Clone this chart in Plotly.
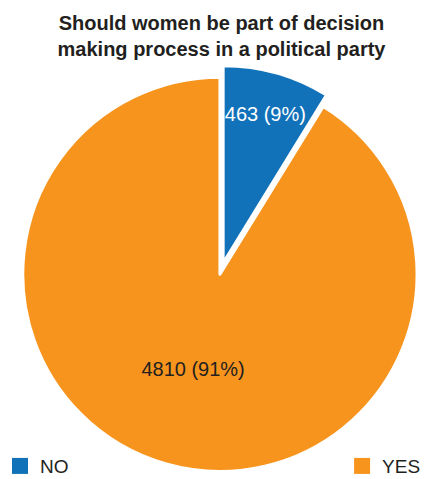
import plotly.graph_objects as go

# Survey answers
answers = ["NO", "YES"]
counts = [463, 4810]
slice_colors = ["#1172b9", "#f7941e"]
label_colors = ["#ffffff", "#231f20"]
title_lines = ["Should women be part of decision", "making process in a political party"]

FONT = "Liberation Sans, Arial, Helvetica, sans-serif"
INK = "#231f20"

fig = go.Figure()

fig.add_trace(
    go.Pie(
        labels=answers,
        values=counts,
        sort=False,
        direction="clockwise",
        rotation=0,
        pull=[0.04, 0.02],
        marker=dict(colors=slice_colors, line=dict(color="#ffffff", width=3)),
        texttemplate="%{value} (%{percent:.0%})",
        textposition="inside",
        insidetextorientation="horizontal",
        textfont=dict(family=FONT, size=20, color=label_colors),
        hoverinfo="label+value+percent",
        showlegend=False,
        domain=dict(x=[16 / 426, 1], y=[0, 1]),
    )
)

# One legend per answer, so the two keys can sit at opposite corners
legend_names = ["legend", "legend2"]
for name, answer, color in zip(legend_names, answers, slice_colors):
    fig.add_trace(
        go.Scatter(
            x=[None],
            y=[None],
            mode="markers",
            name=answer,
            marker=dict(symbol="square", size=16, color=color),
            legend=name,
            showlegend=True,
            hoverinfo="skip",
        )
    )

legend_style = dict(
    orientation="h",
    y=0.031,
    yanchor="middle",
    font=dict(family=FONT, size=19, color=INK),
    bgcolor="rgba(0,0,0,0)",
)

fig.update_layout(
    width=426,
    height=479,
    margin=dict(l=0, r=0, t=62, b=0, autoexpand=False),
    paper_bgcolor="#ffffff",
    plot_bgcolor="#ffffff",
    font=dict(family=FONT, color=INK),
    xaxis=dict(visible=False),
    yaxis=dict(visible=False),
    title=dict(
        text="<b>" + "<br>".join(title_lines) + "</b>",
        x=0.52,
        xanchor="center",
        y=0.937,
        yanchor="top",
        font=dict(family=FONT, size=20, color=INK),
    ),
    legend=dict(legend_style, x=0.0, xanchor="left"),
    legend2=dict(legend_style, x=0.803, xanchor="left"),
)

fig.write_html("out.html")
